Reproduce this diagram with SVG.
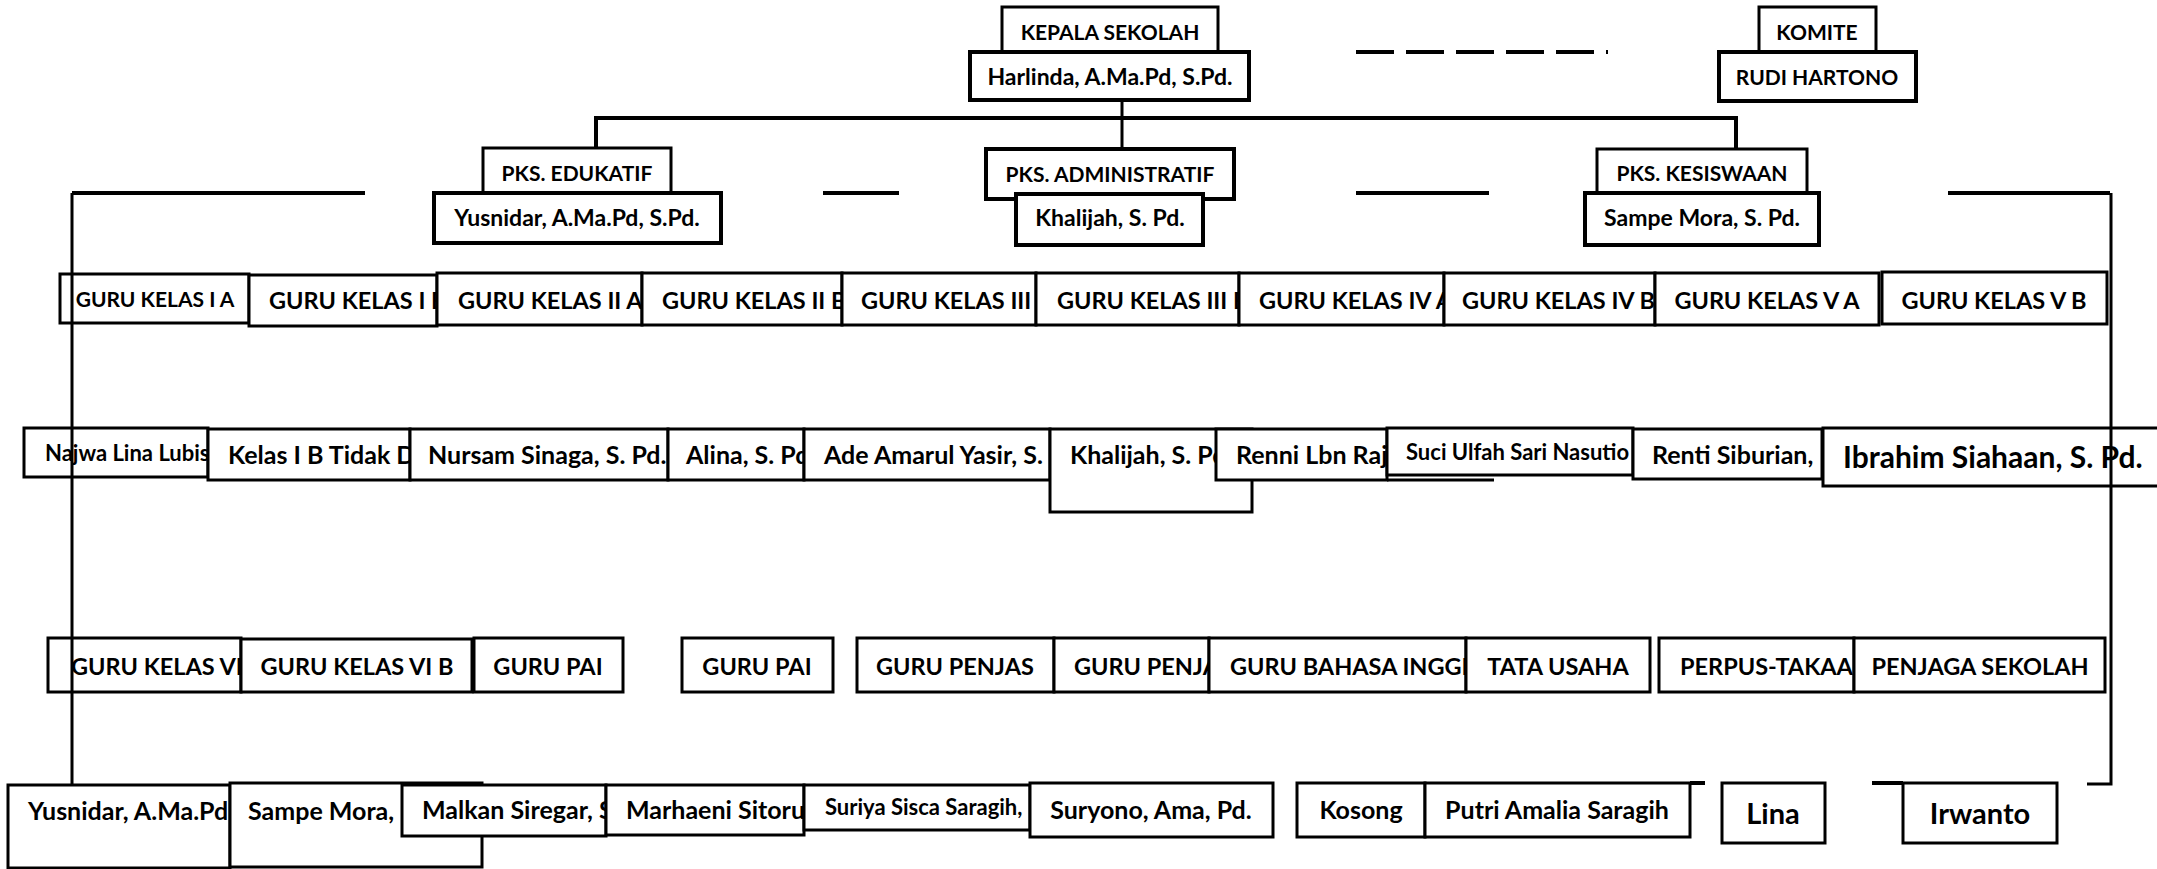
<svg xmlns="http://www.w3.org/2000/svg" width="2157" height="869" viewBox="0 0 2157 869">
<style>
.b{fill:#fff;stroke:#000;stroke-width:3}
.t{font-family:Lato,"Liberation Sans",sans-serif;font-weight:bold;font-size:23.5px;fill:#000}
.c{text-anchor:middle}
.tc{font-size:21px}
.tn{font-size:23px}
.s{font-size:21px}
.s2{font-size:22px}
.n{font-size:25px}
.l{font-size:29px}
.x{font-size:30px}
.conn{stroke:#000;stroke-width:3;fill:none}
.bus{stroke:#000;stroke-width:4;fill:none}
</style>
<rect width="2157" height="869" fill="#fff"/>
<g id="nodes">
<g id="kepala"><rect class="b" x="1002" y="7" width="216" height="45"/><text class="t tc c" x="1110" y="40">KEPALA SEKOLAH</text></g>
<g id="harlinda"><rect class="b" x="970" y="52" width="279" height="48" style="stroke-width:4"/><text class="t tn c" x="1110" y="85">Harlinda, A.Ma.Pd, S.Pd.</text></g>
<g id="komite"><rect class="b" x="1759" y="7" width="117" height="45"/><text class="t tc c" x="1817" y="40">KOMITE</text></g>
<g id="rudi"><rect class="b" x="1719" y="52" width="197" height="49" style="stroke-width:4"/><text class="t tc c" x="1817" y="85">RUDI HARTONO</text></g>
<g id="pks-edukatif"><rect class="b" x="483" y="148" width="188" height="45"/><text class="t tc c" x="577" y="181">PKS. EDUKATIF</text></g>
<g id="pks-edukatif-nama"><rect class="b" x="434" y="193" width="287" height="50" style="stroke-width:4"/><text class="t tn c" x="577" y="226">Yusnidar, A.Ma.Pd, S.Pd.</text></g>
<g id="pks-administratif"><rect class="b" x="986" y="149" width="248" height="50" style="stroke-width:4"/><text class="t tc c" x="1110" y="182">PKS. ADMINISTRATIF</text></g>
<g id="pks-administratif-nama"><rect class="b" x="1016" y="194" width="187" height="51" style="stroke-width:4"/><text class="t tn c" x="1110" y="226">Khalijah, S. Pd.</text></g>
<g id="pks-kesiswaan"><rect class="b" x="1597" y="149" width="210" height="44"/><text class="t tc c" x="1702" y="181">PKS. KESISWAAN</text></g>
<g id="pks-kesiswaan-nama"><rect class="b" x="1585" y="193" width="234" height="52" style="stroke-width:4"/><text class="t tn c" x="1702" y="226">Sampe Mora, S. Pd.</text></g>

<g id="gk1a"><rect class="b" x="60" y="274" width="189" height="49"/><text class="t s c" x="155" y="307">GURU KELAS I A</text></g>
<g id="gk1b"><rect class="b" x="249" y="275" width="188" height="51"/><text class="t" x="269" y="309">GURU KELAS I B</text></g>
<g id="gk2a"><rect class="b" x="437" y="273" width="205" height="52"/><text class="t" x="458" y="309">GURU KELAS II A</text></g>
<g id="gk2b"><rect class="b" x="642" y="273" width="200" height="52"/><text class="t" x="662" y="309">GURU KELAS II B</text></g>
<g id="gk3a"><rect class="b" x="842" y="273" width="194" height="52"/><text class="t" x="861" y="309">GURU KELAS III</text></g>
<g id="gk3b"><rect class="b" x="1036" y="273" width="203" height="52"/><text class="t" x="1057" y="309">GURU KELAS III B</text></g>
<g id="gk4a"><rect class="b" x="1239" y="273" width="205" height="52"/><text class="t" x="1259" y="309">GURU KELAS IV A</text></g>
<g id="gk4b"><rect class="b" x="1444" y="273" width="211" height="52"/><text class="t" x="1462" y="309">GURU KELAS IV B</text></g>
<g id="gk5a"><rect class="b" x="1655" y="273" width="224" height="52"/><text class="t c" x="1767" y="309">GURU KELAS V A</text></g>
<g id="gk5b"><rect class="b" x="1882" y="272" width="225" height="52"/><text class="t c" x="1994" y="309">GURU KELAS V B</text></g>

<g id="najwa"><rect class="b" x="24" y="428" width="184" height="49"/><text class="t s2" x="45" y="461">Najwa Lina Lubis</text></g>
<g id="kelas1b"><rect class="b" x="208" y="429" width="202" height="51"/><text class="t n" x="228" y="464">Kelas I B Tidak D</text></g>
<g id="nursam"><rect class="b" x="410" y="429" width="258" height="51"/><text class="t n" x="428" y="464">Nursam Sinaga, S. Pd.</text></g>
<g id="alina"><rect class="b" x="668" y="429" width="136" height="51"/><text class="t n" x="686" y="464">Alina, S. Pd</text></g>
<g id="ade"><rect class="b" x="804" y="429" width="246" height="51"/><text class="t n" x="824" y="464">Ade Amarul Yasir, S.</text></g>
<g id="khalijah"><rect class="b" x="1050" y="429" width="202" height="83"/><text class="t n" x="1070" y="464">Khalijah, S. Pd</text></g>
<g id="renni"><rect class="b" x="1216" y="429" width="171" height="51"/><text class="t n" x="1236" y="464">Renni Lbn Raj</text></g>
<g id="suci"><rect class="b" x="1387" y="428" width="246" height="47"/><text class="t s2" x="1406" y="460">Suci Ulfah Sari Nasutio</text></g>
<g id="renti"><rect class="b" x="1633" y="429" width="189" height="50"/><text class="t n" x="1652" y="464">Renti Siburian,</text></g>
<g id="ibrahim"><rect class="b" x="1823" y="428" width="350" height="58"/><text class="t x" x="1843" y="468">Ibrahim Siahaan, S. Pd.</text></g>

<g id="gk6a"><rect class="b" x="48" y="638" width="193" height="54"/><text class="t" x="71" y="675">GURU KELAS VI</text></g>
<g id="gk6b"><rect class="b" x="241" y="639" width="231" height="53"/><text class="t c" x="357" y="675">GURU KELAS VI B</text></g>
<g id="pai1"><rect class="b" x="474" y="638" width="149" height="54"/><text class="t c" x="548" y="675">GURU PAI</text></g>
<g id="pai2"><rect class="b" x="682" y="638" width="151" height="54"/><text class="t c" x="757" y="675">GURU PAI</text></g>
<g id="penjas1"><rect class="b" x="857" y="638" width="197" height="54"/><text class="t c" x="955" y="675">GURU PENJAS</text></g>
<g id="penjas2"><rect class="b" x="1054" y="638" width="155" height="54"/><text class="t" x="1074" y="675">GURU PENJA</text></g>
<g id="bahasa"><rect class="b" x="1209" y="638" width="257" height="54"/><text class="t" x="1230" y="675">GURU BAHASA INGGR</text></g>
<g id="tu"><rect class="b" x="1466" y="638" width="184" height="54"/><text class="t c" x="1558" y="675">TATA USAHA</text></g>
<g id="perpus"><rect class="b" x="1659" y="638" width="195" height="54"/><text class="t" x="1680" y="675">PERPUS-TAKAAN</text></g>
<g id="penjaga"><rect class="b" x="1854" y="638" width="251" height="54"/><text class="t c" x="1980" y="675">PENJAGA SEKOLAH</text></g>

<g id="yusnidar"><rect class="b" x="8" y="785" width="222" height="83"/><text class="t n" x="28" y="820">Yusnidar, A.Ma.Pd</text></g>
<g id="sampe"><rect class="b" x="230" y="783" width="252" height="84"/><text class="t n" x="248" y="820">Sampe Mora,</text></g>
<g id="malkan"><rect class="b" x="402" y="785" width="204" height="51"/><text class="t n" x="422" y="819">Malkan Siregar, S</text></g>
<g id="marhaeni"><rect class="b" x="606" y="785" width="198" height="50"/><text class="t n" x="626" y="819">Marhaeni Sitoru</text></g>
<g id="suriya"><rect class="b" x="804" y="785" width="226" height="45"/><text class="t s2" x="825" y="815">Suriya Sisca Saragih,</text></g>
<g id="suryono"><rect class="b" x="1030" y="783" width="243" height="54"/><text class="t n c" x="1151" y="819">Suryono, Ama, Pd.</text></g>
<g id="kosong"><rect class="b" x="1297" y="783" width="128" height="54"/><text class="t n c" x="1361" y="819">Kosong</text></g>
<g id="putri"><rect class="b" x="1425" y="783" width="265" height="54"/><text class="t n c" x="1557" y="819">Putri Amalia Saragih</text></g>
<g id="lina"><rect class="b" x="1722" y="783" width="103" height="60"/><text class="t l c" x="1773" y="824">Lina</text></g>
<g id="irwanto"><rect class="b" x="1903" y="783" width="154" height="60"/><text class="t l c" x="1980" y="824">Irwanto</text></g>
</g>
<g id="connectors">
<path class="conn" d="M1122,100 V118"/>
<path class="bus" d="M596,149 V118 H1736 V149"/>
<path class="conn" d="M1122,118 V149"/>
<path class="bus" d="M1356,52 H1608" stroke-dasharray="38 12"/>
<path class="bus" d="M72,193 H365"/>
<path class="bus" d="M823,193 H899"/>
<path class="bus" d="M1356,193 H1489"/>
<path class="bus" d="M1948,193 H2110"/>
<path class="conn" d="M72,193 V785"/>
<path class="conn" d="M2111,193 V784 H2087"/>
<path class="bus" d="M1690,783 H1705"/>
<path class="bus" d="M1872,783 H1903"/>
<path class="conn" d="M1387,480 H1494"/>
</g>
</svg>
